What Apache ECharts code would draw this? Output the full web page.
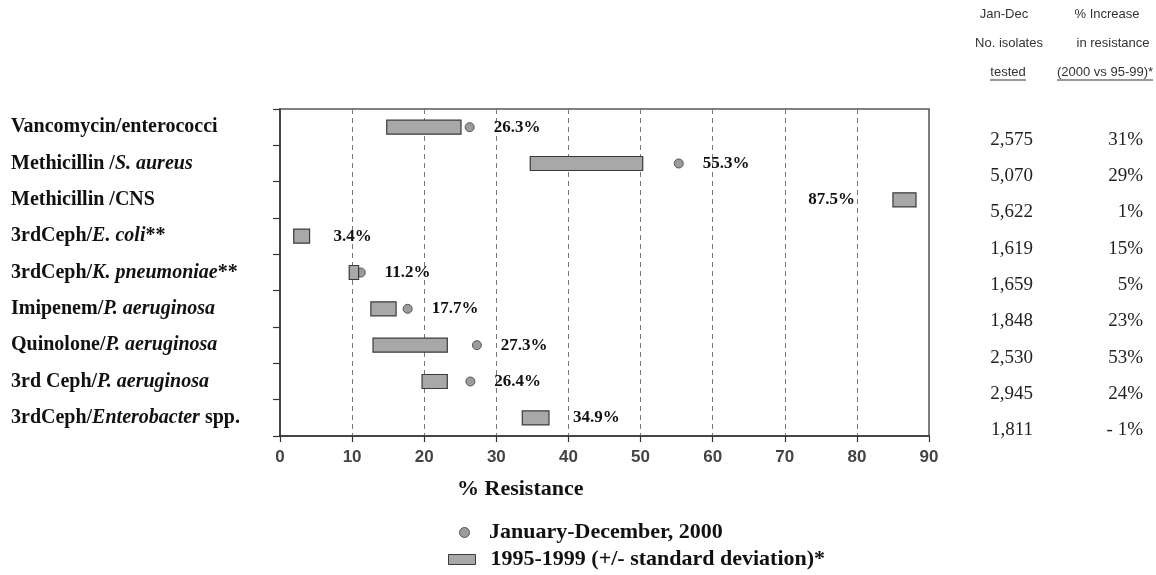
<!DOCTYPE html>
<html>
<head>
<meta charset="utf-8">
<script src="https://cdn.jsdelivr.net/npm/echarts@6/dist/echarts.min.js"></script>
<style>
html,body{margin:0;padding:0;background:#fff;}
#chart{width:1156px;height:575px;}
</style>
</head>
<body>
<div id="chart"></div>
<script>
// ---- data ----
const categories = [
  "Vancomycin/enterococci",
  "Methicillin /S. aureus",
  "Methicillin /CNS",
  "3rdCeph/E. coli**",
  "3rdCeph/K. pneumoniae**",
  "Imipenem/P. aeruginosa",
  "Quinolone/P. aeruginosa",
  "3rd Ceph/P. aeruginosa",
  "3rdCeph/Enterobacter spp."
];
const italicParts = ["", "S. aureus", "", "E. coli", "K. pneumoniae", "P. aeruginosa", "P. aeruginosa", "P. aeruginosa", "Enterobacter"];
const resist2000 = [26.3, 55.3, 87.5, 3.4, 11.2, 17.7, 27.3, 26.4, 34.9];
const range9599Low  = [14.8, 34.7, 85.0, 1.9, 9.6, 12.6, 12.9, 19.7, 33.6];
const range9599High = [25.1, 50.3, 88.2, 4.1, 10.9, 16.1, 23.2, 23.2, 37.3];
const isolatesTested = ["2,575", "5,070", "5,622", "1,619", "1,659", "1,848", "2,530", "2,945", "1,811"];
const pctIncrease = ["31%", "29%", "1%", "15%", "5%", "23%", "53%", "24%", "- 1%"];
const xTicks = { min: 0, max: 90, interval: 10 };
const seriesNames = ["January-December, 2000", "1995-1999 (+/- standard deviation)*"];
const headerLeft = ["Jan-Dec", "No. isolates", "tested"];
const headerRight = ["% Increase", "in resistance", "(2000 vs 95-99)*"];
const axisTitle = "% Resistance";

// ---- chart ----
const serif = "'Liberation Serif', 'DejaVu Serif', serif";
const sans = "'Liberation Sans', Arial, sans-serif";
const chart = echarts.init(document.getElementById('chart'), null, {renderer: 'canvas'});

function catLabel(val, idx) {
  const it = italicParts[idx];
  if (!it) return '{b|' + val + '}';
  const k = val.indexOf(it);
  let s = '';
  if (k > 0) s += '{b|' + val.slice(0, k) + '}';
  s += '{i|' + it + '}';
  const rest = val.slice(k + it.length);
  if (rest) s += '{b|' + rest + '}';
  return s;
}

const labelData = resist2000.map((v, i) => {
  const anchorRight = Math.max(v, range9599High[i]);
  const toLeft = v > 80;
  return {
    value: [toLeft ? Math.min(v, range9599Low[i]) : anchorRight, i],
    label: toLeft ? {position: 'left', distance: 38} : {position: 'right', distance: 24}
  };
});

const legendText = {fontFamily: serif, fontWeight: 'bold', fontSize: 22, color: '#111', lineHeight: 23};

const option = {
  backgroundColor: '#fff',
  animation: false,
  grid: {left: 280, right: 227, top: 109, bottom: 139, show: true, borderColor: '#555', borderWidth: 1.5, backgroundColor: 'transparent'},
  xAxis: {
    type: 'value', min: xTicks.min, max: xTicks.max, interval: xTicks.interval,
    axisLine: {show: true, lineStyle: {color: '#333', width: 1.5}},
    axisTick: {show: true, inside: false, length: 6, lineStyle: {color: '#333', width: 1.2}},
    axisLabel: {margin: 13, color: '#444', fontFamily: sans, fontWeight: 'bold', fontSize: 17},
    splitLine: {show: true, lineStyle: {color: '#777', type: [5, 4], width: 1}}
  },
  yAxis: [{
    type: 'category', data: categories, inverse: true,
    axisLine: {show: true, lineStyle: {color: '#333', width: 1.5}},
    axisTick: {show: true, inside: false, length: 7, lineStyle: {color: '#333', width: 1.2}},
    splitLine: {show: false},
    axisLabel: {
      align: 'left', margin: 269, formatter: catLabel,
      rich: {
        b: {fontFamily: serif, fontWeight: 'bold', fontSize: 20, color: '#111'},
        i: {fontFamily: serif, fontWeight: 'bold', fontStyle: 'italic', fontSize: 20, color: '#111'}
      }
    }
  }, {
    type: 'category', data: categories, inverse: true, position: 'right',
    axisLine: {show: false}, axisTick: {show: false}, splitLine: {show: false},
    axisLabel: {
      align: 'left', margin: 61, padding: [25, 0, 0, 0],
      formatter: (v, i) => '{n|' + isolatesTested[i] + '}{p|' + pctIncrease[i] + '}',
      rich: {
        n: {width: 43, align: 'right', fontFamily: serif, fontSize: 19, color: '#222'},
        p: {width: 110, align: 'right', fontFamily: serif, fontSize: 19, color: '#222'}
      }
    }
  }],
  legend: [{
    left: 459, top: 521, itemWidth: 27, itemHeight: 10, padding: 0,
    data: [{name: seriesNames[0], icon: 'circle'}],
    itemStyle: {borderWidth: 1},
    textStyle: Object.assign({padding: [0, 0, 0, 6]}, legendText)
  }, {
    left: 448, top: 548, itemWidth: 27, itemHeight: 10, padding: 0,
    data: [{name: seriesNames[1], icon: 'rect'}],
    itemStyle: {borderWidth: 1},
    textStyle: Object.assign({padding: [0, 0, 0, 10]}, legendText)
  }],
  series: [{
    name: seriesNames[0], type: 'scatter', z: 2,
    data: resist2000.map((v, i) => [v, i]),
    symbol: 'circle', symbolSize: 9,
    itemStyle: {color: '#9c9c9c', borderColor: '#555', borderWidth: 1, opacity: 1}
  }, {
    name: seriesNames[1], type: 'custom', z: 3,
    data: range9599Low.map((l, i) => [l, range9599High[i], i]),
    encode: {x: [0, 1], y: 2},
    itemStyle: {color: '#a8a8a8', borderColor: '#3a3a3a', borderWidth: 1},
    renderItem: function (params, api) {
      const p0 = api.coord([api.value(0), api.value(2)]);
      const p1 = api.coord([api.value(1), api.value(2)]);
      const h = 14;
      return {type: 'rect', shape: {x: p0[0], y: p0[1] - h / 2, width: p1[0] - p0[0], height: h},
        style: {fill: '#a8a8a8', stroke: '#3a3a3a', lineWidth: 1.2}};
    }
  }, {
    name: 'labels', type: 'scatter', z: 4, symbolSize: 0, silent: true,
    itemStyle: {opacity: 1},
    data: labelData,
    label: {show: true, formatter: p => resist2000[p.dataIndex] + '%', fontFamily: serif, fontWeight: 'bold', fontSize: 17, color: '#111', opacity: 1}
  }],
  graphic: [
    {type: 'text', left: 457, top: 478, style: {text: axisTitle, font: 'bold 22px ' + serif, fill: '#111'}},
    {type: 'text', x: 1004, y: 14, style: {text: headerLeft[0], font: '13px ' + sans, fill: '#333', align: 'center', verticalAlign: 'middle'}},
    {type: 'text', x: 1009, y: 43, style: {text: headerLeft[1], font: '13px ' + sans, fill: '#333', align: 'center', verticalAlign: 'middle'}},
    {type: 'text', x: 1008, y: 72, style: {text: headerLeft[2], font: '13px ' + sans, fill: '#333', align: 'center', verticalAlign: 'middle'}},
    {type: 'text', x: 1107, y: 14, style: {text: headerRight[0], font: '13px ' + sans, fill: '#333', align: 'center', verticalAlign: 'middle'}},
    {type: 'text', x: 1113, y: 43, style: {text: headerRight[1], font: '13px ' + sans, fill: '#333', align: 'center', verticalAlign: 'middle'}},
    {type: 'text', x: 1105, y: 72, style: {text: headerRight[2], font: '13px ' + sans, fill: '#333', align: 'center', verticalAlign: 'middle'}},
    {type: 'line', shape: {x1: 990, y1: 80, x2: 1026, y2: 80}, style: {stroke: '#333', lineWidth: 1}},
    {type: 'line', shape: {x1: 1057, y1: 80, x2: 1153, y2: 80}, style: {stroke: '#333', lineWidth: 1}}
  ]
};
chart.setOption(option);
</script>
</body>
</html>
